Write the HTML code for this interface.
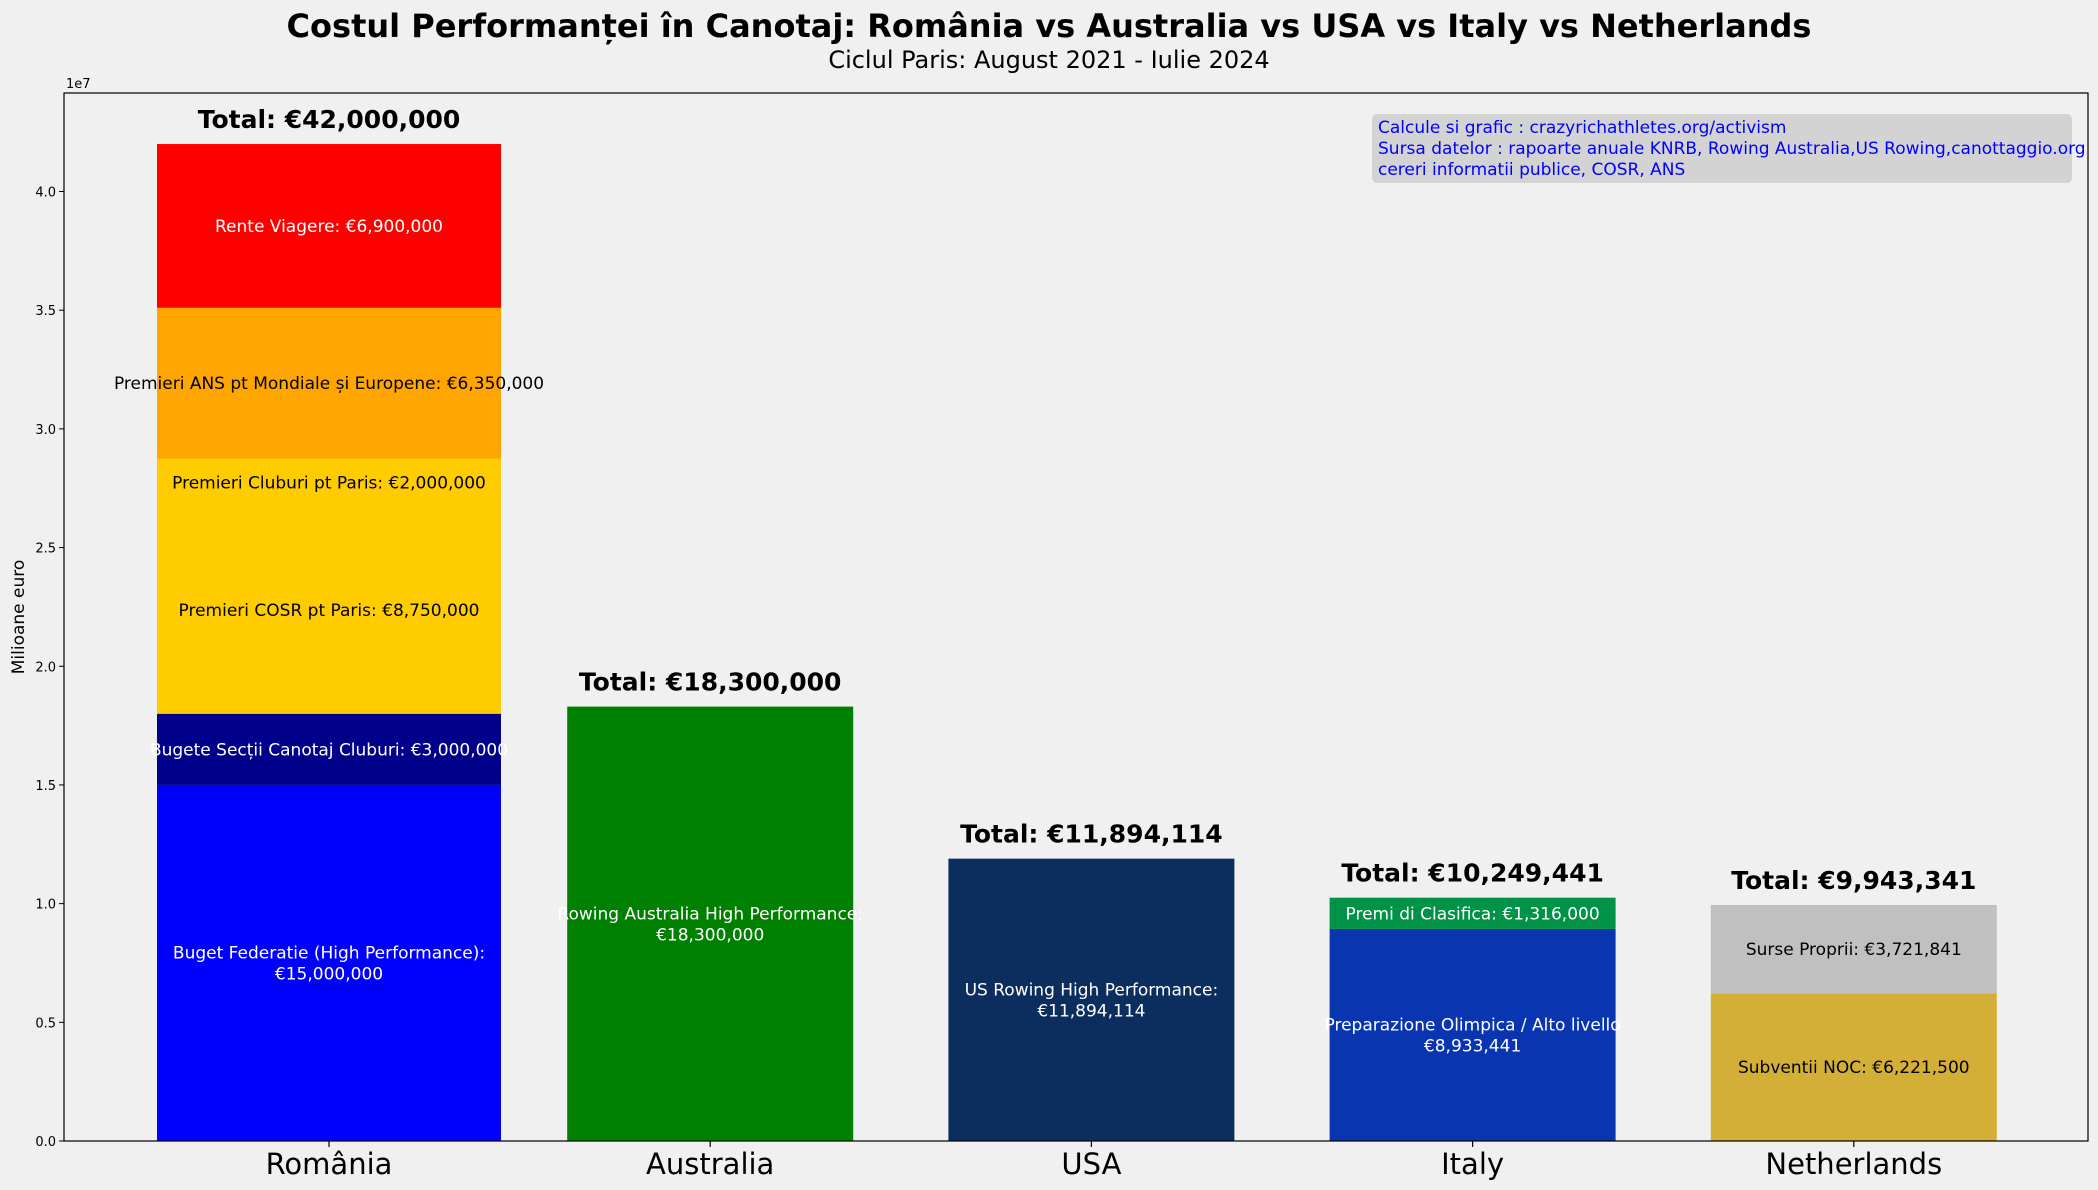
<!DOCTYPE html>
<html><head><meta charset="utf-8"><style>
body{margin:0;background:#f0f0f0;}
svg{display:block;font-family:"DejaVu Sans","Liberation Sans",sans-serif;}
</style></head><body>
<svg id="chart" width="2098" height="1190" viewBox="0 0 2098 1190">
<rect x="0" y="0" width="2098" height="1190" fill="#f0f0f0"/>
<text x="1049" y="37" text-anchor="middle" font-size="32" font-weight="bold">Costul Performanței în Canotaj: România vs Australia vs USA vs Italy vs Netherlands</text>
<text x="1049" y="68" text-anchor="middle" font-size="24">Ciclul Paris: August 2021 - Iulie 2024</text>
<text x="0" y="0" transform="translate(24,617) rotate(-90)" text-anchor="middle" font-size="17">Milioane euro</text>
<text x="66" y="88" font-size="13">1e7</text>
<g id="bars"></g>
<g id="axes"></g>
<g>
<rect x="1372" y="114" width="700" height="69" rx="5" fill="#d3d3d3"/>
<text x="1378" y="133" font-size="17" fill="#0000ff">Calcule si grafic : crazyrichathletes.org/activism</text>
<text x="1378" y="154" font-size="17" fill="#0000ff">Sursa datelor : rapoarte anuale KNRB, Rowing Australia,US Rowing,canottaggio.org</text>
<text x="1378" y="175" font-size="17" fill="#0000ff">cereri informatii publice, COSR, ANS</text>
</g>
</svg>
<script>
const categories = ["România","Australia","USA","Italy","Netherlands"];
const roValues = [15000000,3000000,8750000,2000000,6350000,6900000];
const roLabels = ["Buget Federatie (High Performance):\n€15,000,000","Bugete Secții Canotaj Cluburi: €3,000,000","Premieri COSR pt Paris: €8,750,000","Premieri Cluburi pt Paris: €2,000,000","Premieri ANS pt Mondiale și Europene: €6,350,000","Rente Viagere: €6,900,000"];
const auValues = [18300000];
const auLabels = ["Rowing Australia High Performance:\n€18,300,000"];
const usValues = [11894114];
const usLabels = ["US Rowing High Performance:\n€11,894,114"];
const itValues = [8933441,1316000];
const itLabels = ["Preparazione Olimpica / Alto livello\n€8,933,441","Premi di Clasifica: €1,316,000"];
const nlValues = [6221500,3721841];
const nlLabels = ["Subventii NOC: €6,221,500","Surse Proprii: €3,721,841"];
const yTicks = [0,5000000,10000000,15000000,20000000,25000000,30000000,35000000,40000000];
const yTickLabels = ["0.0","0.5","1.0","1.5","2.0","2.5","3.0","3.5","4.0"];

const colors = [["#0000ff","#00008b","#ffcc00","#ffcc00","#ffa500","#ff0000"],["#008000"],["#0c2e5e"],["#0a35b0","#009246"],["#d4af37","#c0c0c0"]];
const textCol = [["#fff","#fff","#000","#000","#000","#fff"],["#fff"],["#fff"],["#fff","#fff"],["#000","#000"]];
const allValues=[roValues,auValues,usValues,itValues,nlValues];
const allLabels=[roLabels,auLabels,usLabels,itLabels,nlLabels];
const NS="http://www.w3.org/2000/svg";
const L=64,R=2088,T=93,B=1141,yMax=44150000;
const y=v=>B-(v/yMax)*(B-T);
const x=i=>329+381.2*i;
const bw=i=>i===0?344:286;
const bars=document.getElementById('bars'), axes=document.getElementById('axes');
function mk(tag,attrs,parent){const e=document.createElementNS(NS,tag);for(const k in attrs)e.setAttribute(k,attrs[k]);parent.appendChild(e);return e;}
allValues.forEach((vals,i)=>{
  let base=0;
  vals.forEach((v,j)=>{
    const r=mk('rect',{x:x(i)-bw(i)/2,y:y(base+v),width:bw(i),height:y(base)-y(base+v),fill:colors[i][j]},bars);
    
    
    const lines=allLabels[i][j].split("\n");
    const cy=y(base+v/2);
    lines.forEach((ln,k)=>{
      const t=mk('text',{x:x(i),y:cy+6+(k-(lines.length-1)/2)*21,'text-anchor':'middle','font-size':17,fill:textCol[i][j]},bars);
      
      
      t.textContent=ln;
    });
    base+=v;
  });
  const tot=mk('text',{x:x(i),y:y(base)-16,'text-anchor':'middle','font-size':25,'font-weight':'bold'},bars);
  
  
  tot.textContent="Total: €"+base.toLocaleString('en-US');
  const tk=mk('line',{x1:x(i),x2:x(i),y1:B,y2:B+6,stroke:'#000','stroke-width':1.2},axes);
  const lb=mk('text',{x:x(i),y:B+33,'text-anchor':'middle','font-size':29},axes);
  
  
  lb.textContent=categories[i];
});
yTicks.forEach((v,k)=>{
  mk('line',{x1:L-5,x2:L,y1:y(v),y2:y(v),stroke:'#000','stroke-width':1},axes);
  const t=mk('text',{x:L-8,y:y(v)+5,'text-anchor':'end','font-size':13},axes);
  
  
  t.textContent=yTickLabels[k];
});
const fr=mk('rect',{x:L,y:T,width:R-L,height:B-T,fill:'none',stroke:'#000','stroke-width':1.2},axes);


</script>
</body></html>
